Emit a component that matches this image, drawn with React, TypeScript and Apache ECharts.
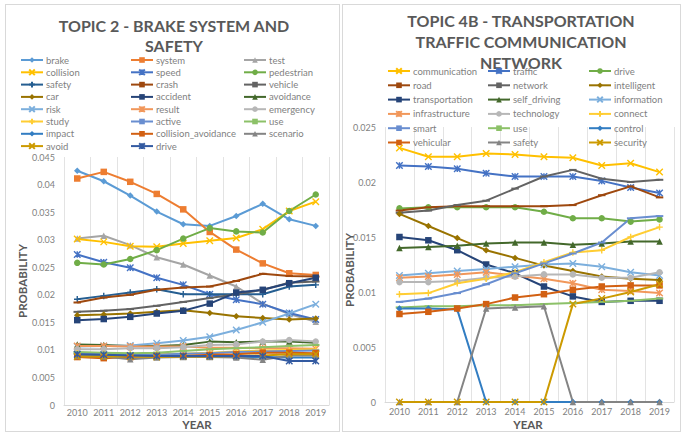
import React, { useEffect, useRef } from "react";
import * as echarts from "echarts";

const years = ["2010", "2011", "2012", "2013", "2014", "2015", "2016", "2017", "2018", "2019"];

// ---- Topic 2: brake system and safety ----
const brake = [0.0425, 0.0406, 0.038, 0.0351, 0.0328, 0.0325, 0.0343, 0.0365, 0.0337, 0.0325];
const system = [0.0411, 0.0423, 0.0405, 0.0383, 0.0355, 0.0314, 0.0282, 0.0257, 0.0239, 0.0236];
const test = [0.0302, 0.0307, 0.029, 0.0268, 0.0255, 0.0235, 0.0215, 0.0184, 0.0165, 0.0151];
const collision = [0.0301, 0.0296, 0.0288, 0.0287, 0.0293, 0.0298, 0.0303, 0.0319, 0.0352, 0.0369];
const speed = [0.0273, 0.0259, 0.0249, 0.0231, 0.0218, 0.0201, 0.0191, 0.0183, 0.0167, 0.0155];
const pedestrian = [0.0258, 0.0255, 0.0265, 0.0281, 0.0302, 0.0321, 0.0315, 0.0313, 0.0352, 0.0382];
const safety2 = [0.0192, 0.0198, 0.0204, 0.021, 0.0201, 0.0201, 0.0201, 0.0201, 0.0215, 0.0218];
const crash = [0.0186, 0.0195, 0.02, 0.0209, 0.0213, 0.0215, 0.0225, 0.0238, 0.0234, 0.0233];
const vehicle = [0.0169, 0.0171, 0.0174, 0.018, 0.0187, 0.0194, 0.0201, 0.0209, 0.0222, 0.0224];
const car = [0.0163, 0.0164, 0.0166, 0.0169, 0.0172, 0.0167, 0.0161, 0.0158, 0.0155, 0.0157];
const accident = [0.0154, 0.0156, 0.016, 0.0166, 0.0171, 0.0184, 0.0204, 0.0209, 0.0221, 0.0231];
const avoidance = [0.011, 0.0109, 0.0107, 0.0107, 0.0109, 0.0115, 0.0114, 0.0115, 0.0115, 0.0113];
const risk = [0.0106, 0.0107, 0.0108, 0.0112, 0.0117, 0.0124, 0.0136, 0.015, 0.0166, 0.0183];
const result = [0.0107, 0.0107, 0.0106, 0.0106, 0.0106, 0.0104, 0.0104, 0.0103, 0.0103, 0.0102];
const emergency = [0.0101, 0.0101, 0.0103, 0.0103, 0.0105, 0.0109, 0.011, 0.0115, 0.0118, 0.0115];
const study = [0.0094, 0.0093, 0.0093, 0.0092, 0.0093, 0.0095, 0.0097, 0.0099, 0.01, 0.0101];
const active = [0.0093, 0.0093, 0.0092, 0.0091, 0.0093, 0.0094, 0.0096, 0.0097, 0.0098, 0.0099];
const use2 = [0.0096, 0.0095, 0.0094, 0.0095, 0.0098, 0.0101, 0.0103, 0.0105, 0.0107, 0.0109];
const impact = [0.009, 0.009, 0.0089, 0.0088, 0.0088, 0.0087, 0.0087, 0.0087, 0.0086, 0.0086];
const collisionAvoidance = [0.0087, 0.0085, 0.0087, 0.0089, 0.0089, 0.0091, 0.0092, 0.0095, 0.0095, 0.0094];
const scenario = [0.0089, 0.0088, 0.0083, 0.0086, 0.0087, 0.0087, 0.0086, 0.0082, 0.009, 0.009];
const avoid = [0.0088, 0.0088, 0.0088, 0.0087, 0.0088, 0.0088, 0.0089, 0.009, 0.0092, 0.0092];
const drive2 = [0.0092, 0.0091, 0.009, 0.0089, 0.0089, 0.0089, 0.0089, 0.0089, 0.008, 0.008];

// ---- Topic 4B: transportation traffic communication network ----
const communication = [0.0231, 0.0223, 0.0223, 0.0226, 0.0225, 0.0223, 0.0222, 0.0215, 0.0217, 0.0209];
const traffic = [0.0215, 0.0214, 0.0212, 0.0208, 0.0205, 0.0205, 0.0205, 0.0201, 0.0195, 0.019];
const drive4 = [0.0176, 0.0177, 0.0177, 0.0177, 0.0177, 0.0173, 0.0167, 0.0167, 0.0164, 0.0166];
const road = [0.0174, 0.0177, 0.0178, 0.0178, 0.0178, 0.0178, 0.0179, 0.0188, 0.0196, 0.0186];
const network = [0.0172, 0.0174, 0.0179, 0.0183, 0.0194, 0.0205, 0.0211, 0.0203, 0.02, 0.0202];
const intelligent = [0.0171, 0.016, 0.0149, 0.0138, 0.0131, 0.0124, 0.0119, 0.0114, 0.0112, 0.0111];
const transportation = [0.015, 0.0147, 0.0138, 0.0125, 0.0117, 0.0105, 0.0096, 0.0091, 0.0092, 0.0092];
const selfDriving = [0.014, 0.0141, 0.0142, 0.0144, 0.0145, 0.0145, 0.0143, 0.0144, 0.0146, 0.0146];
const information = [0.0115, 0.0117, 0.0119, 0.0121, 0.0123, 0.0125, 0.0126, 0.0123, 0.0118, 0.0115];
const infrastructure = [0.0113, 0.0114, 0.0116, 0.0118, 0.0115, 0.0112, 0.0108, 0.0102, 0.0101, 0.0099];
const technology = [0.0109, 0.0109, 0.011, 0.0113, 0.0114, 0.0116, 0.0116, 0.0113, 0.0113, 0.0118];
const connect = [0.0098, 0.0099, 0.0108, 0.0112, 0.0118, 0.0127, 0.0136, 0.0138, 0.015, 0.0159];
const smart = [0.0091, 0.0094, 0.0099, 0.0107, 0.0117, 0.0126, 0.0135, 0.0145, 0.0167, 0.0169];
const use4 = [0.0086, 0.0087, 0.0087, 0.0088, 0.0088, 0.0089, 0.009, 0.0091, 0.0092, 0.0094];
const control = [0.0085, 0.0085, 0.0084, 0, 0, 0, 0, 0, 0, 0];
const vehicular = [0.008, 0.0082, 0.0085, 0.0089, 0.0095, 0.0098, 0.0102, 0.0105, 0.0106, 0.0106];
const safety4 = [0, 0, 0, 0.0085, 0.0086, 0.0087, 0, 0, 0, 0];
const security = [0, 0, 0, 0, 0, 0, 0.0089, 0.0094, 0.01, 0.0107];

const FONT = "Lato";
const TITLE_GRAY = "#595959";
const LABEL_GRAY = "#7f7f7f";

const MK = {
  diamond: "diamond",
  square: "rect",
  triangle: "triangle",
  circle: "circle",
  x: "path://M0,0L10,10M10,0L0,10",
  star: "path://M0,0L10,10M10,0L0,10M5,0L5,10",
  plus: "path://M5,0L5,10M0,5L10,5",
  dash: "path://M0,4L10,4L10,6L0,6Z",
};

type Def = [string, number[], string, string];

const topic2: Def[] = [
  ["brake", brake, "#5B9BD5", MK.diamond],
  ["system", system, "#ED7D31", MK.square],
  ["test", test, "#A5A5A5", MK.triangle],
  ["collision", collision, "#FFC000", MK.x],
  ["speed", speed, "#4472C4", MK.star],
  ["pedestrian", pedestrian, "#70AD47", MK.circle],
  ["safety", safety2, "#255E91", MK.plus],
  ["crash", crash, "#9E480E", MK.dash],
  ["vehicle", vehicle, "#636363", MK.dash],
  ["car", car, "#997300", MK.diamond],
  ["accident", accident, "#264478", MK.square],
  ["avoidance", avoidance, "#43682B", MK.triangle],
  ["risk", risk, "#7CAFDD", MK.x],
  ["result", result, "#F1975A", MK.star],
  ["emergency", emergency, "#B7B7B7", MK.circle],
  ["study", study, "#FFCD33", MK.plus],
  ["active", active, "#698ED0", MK.dash],
  ["use", use2, "#8CC168", MK.dash],
  ["impact", impact, "#327DC2", MK.diamond],
  ["collision_avoidance", collisionAvoidance, "#D26012", MK.square],
  ["scenario", scenario, "#848484", MK.triangle],
  ["avoid", avoid, "#CC9A00", MK.x],
  ["drive", drive2, "#335AA1", MK.star],
];

const topic4: Def[] = [
  ["communication", communication, "#FFC000", MK.x],
  ["traffic", traffic, "#4472C4", MK.star],
  ["drive", drive4, "#70AD47", MK.circle],
  ["road", road, "#9E480E", MK.dash],
  ["network", network, "#636363", MK.dash],
  ["intelligent", intelligent, "#997300", MK.diamond],
  ["transportation", transportation, "#264478", MK.square],
  ["self_driving", selfDriving, "#43682B", MK.triangle],
  ["information", information, "#7CAFDD", MK.x],
  ["infrastructure", infrastructure, "#F1975A", MK.star],
  ["technology", technology, "#B7B7B7", MK.circle],
  ["connect", connect, "#FFCD33", MK.plus],
  ["smart", smart, "#698ED0", MK.dash],
  ["use", use4, "#8CC168", MK.dash],
  ["control", control, "#327DC2", MK.diamond],
  ["vehicular", vehicular, "#D26012", MK.square],
  ["safety", safety4, "#848484", MK.triangle],
  ["security", security, "#CC9A00", MK.x],
];

function buildSeries(defs: Def[], base: number) {
  return defs.map(([name, data, color, sym]) => {
    const isDash = sym === MK.dash;
    const stroked = sym.startsWith("path://") && !isDash;
    return {
      type: "line",
      name,
      data,
      symbol: sym,
      symbolSize: isDash ? [base + 1, 2] : base,
      showSymbol: true,
      lineStyle: { width: 2, color },
      itemStyle: {
        color,
        borderColor: color,
        borderWidth: stroked ? 1.4 : 0,
      },
      emphasis: { disabled: true },
    };
  });
}

function legends(columns: string[][], lefts: number[], top: number, gap: number) {
  return columns.map((col, i) => ({
    orient: "vertical",
    left: lefts[i],
    top,
    padding: 0,
    data: col,
    itemWidth: 22,
    itemHeight: 7,
    itemGap: gap,
    selectedMode: false,
    textStyle: { fontFamily: FONT, fontSize: 9.5, color: LABEL_GRAY, lineHeight: 10, padding: [0, 0, 0, -2] },
  }));
}

function axes(max: number, labelMargin: number) {
  return {
    xAxis: {
      type: "category",
      data: years,
      boundaryGap: true,
      axisLine: { show: true, lineStyle: { color: "#d9d9d9", width: 1 } },
      axisTick: { show: false },
      splitLine: { show: true, lineStyle: { color: "#e3e3e3", width: 1 } },
      axisLabel: { fontFamily: FONT, fontSize: 9, color: LABEL_GRAY, margin: labelMargin, interval: 0, lineHeight: 9 },
    },
    yAxis: {
      type: "value",
      min: 0,
      max,
      interval: 0.005,
      axisLine: { show: false },
      axisTick: { show: false },
      splitLine: { show: false },
      axisLabel: { fontFamily: FONT, fontSize: 9, color: LABEL_GRAY, margin: 9 },
    },
  };
}

function text(x: number, y: number, t: string, size: number, rotation = 0) {
  return {
    type: "text",
    x,
    y,
    rotation,
    style: {
      text: t,
      fill: TITLE_GRAY,
      font: `bold ${size}px ${FONT}`,
      textAlign: "center",
      textVerticalAlign: "middle",
    },
  };
}

const leftOption = {
  animation: false,
  backgroundColor: "#ffffff",
  grid: { left: 58, right: 10, top: 152, bottom: 26, containLabel: false },
  ...axes(0.045, 3),
  legend: legends(
    [
      ["brake", "collision", "safety", "car", "risk", "study", "impact", "avoid"],
      ["system", "speed", "crash", "accident", "result", "active", "collision_avoidance", "drive"],
      ["test", "pedestrian", "vehicle", "avoidance", "emergency", "use", "scenario"],
    ],
    [14, 124, 237],
    50,
    2.3
  ),
  graphic: [
    text(168, 20, "TOPIC 2 - BRAKE SYSTEM AND", 16),
    text(168, 40, "SAFETY", 16),
    text(191, 419, "YEAR", 11.5),
    text(16, 276, "PROBABILITY", 11.5, Math.PI / 2),
  ],
  series: buildSeries(topic2, 6.5),
};

const rightOption = {
  animation: false,
  backgroundColor: "#ffffff",
  grid: { left: 42, right: 6, top: 122, bottom: 29, containLabel: false },
  ...axes(0.025, 5),
  legend: legends(
    [
      ["communication", "road", "transportation", "infrastructure", "smart", "vehicular"],
      ["traffic", "network", "self_driving", "technology", "use", "safety"],
      ["drive", "intelligent", "information", "connect", "control", "security"],
    ],
    [44, 144, 245],
    61,
    4.3
  ),
  graphic: [
    text(178, 15, "TOPIC 4B - TRANSPORTATION", 16),
    text(178, 36, "TRAFFIC COMMUNICATION", 16),
    text(178, 57, "NETWORK", 16),
    text(185, 419, "YEAR", 11.5),
    text(6, 265, "PROBABILITY", 11.5, Math.PI / 2),
  ],
  series: buildSeries(topic4, 6.5),
};

function Panel(props: { left: number; top: number; width: number; height: number; option: any }) {
  const ref = useRef<HTMLDivElement>(null);
  useEffect(() => {
    if (!ref.current) return;
    const chart = echarts.init(ref.current, undefined, { renderer: "svg" });
    chart.setOption(props.option);
    return () => chart.dispose();
  }, []);
  const { left, top, width, height } = props;
  return (
    <>
      <div
        style={{
          position: "absolute",
          left: left - 1,
          top: top - 1,
          width,
          height,
          border: "1px solid #d9d9d9",
        }}
      />
      <div ref={ref} style={{ position: "absolute", left, top, width, height }} />
    </>
  );
}

export default function App() {
  return (
    <div style={{ position: "absolute", left: 0, top: 0, width: 682, height: 435, background: "#ffffff", overflow: "hidden" }}>
      <Panel left={6} top={5} width={333} height={426} option={leftOption} />
      <Panel left={343} top={5} width={337} height={426} option={rightOption} />
    </div>
  );
}
